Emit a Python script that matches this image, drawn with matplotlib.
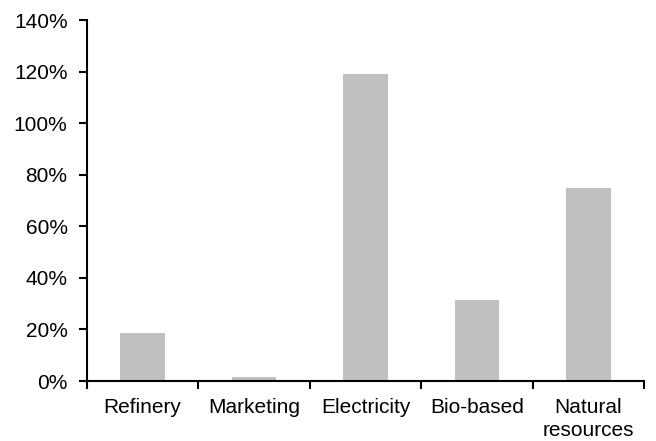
import numpy as np
import matplotlib.pyplot as plt
from matplotlib.ticker import FuncFormatter

# share of earnings by segment
segments = ['Refinery', 'Marketing', 'Electricity', 'Bio-based', 'Natural\nresources']
shares = [0.186, 0.014, 1.19, 0.314, 0.749]

plt.rcParams['font.family'] = ['Liberation Sans', 'DejaVu Sans']

fig = plt.figure(figsize=(6.56, 4.41), dpi=100)
ax = fig.add_axes([0.1326, 0.136, 0.849, 0.8186])

x = np.arange(len(segments))
ax.bar(x, shares, width=0.4, color='#c0c0c0')

ax.set_xlim(-0.5, len(segments) - 0.5)
ax.set_ylim(0, 1.4)
ax.set_yticks(np.arange(0, 1.41, 0.2))
ax.yaxis.set_major_formatter(FuncFormatter(lambda v, p: '{:.0f}%'.format(v * 100)))

# labels centred under bars, tick marks between categories
ax.set_xticks(x)
ax.set_xticklabels(segments, linespacing=1.3)
ax.set_xticks(np.arange(-0.5, len(segments), 1.0), minor=True)
ax.tick_params(axis='x', which='major', length=0, pad=12, labelsize=15)
ax.tick_params(axis='x', which='minor', length=6, width=1.5, direction='out')
ax.tick_params(axis='y', length=6, width=1.5, direction='out', pad=8, labelsize=15)

for side in ['top', 'right']:
    ax.spines[side].set_visible(False)
for side in ['left', 'bottom']:
    ax.spines[side].set_linewidth(1.5)

fig.savefig('out.png', dpi=100)
